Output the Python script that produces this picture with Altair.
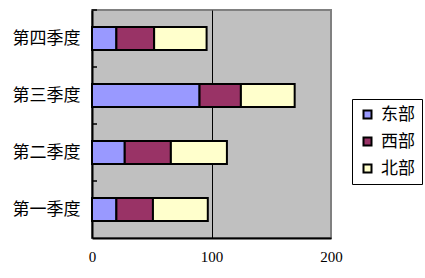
import altair as alt
import pandas as pd

quarters = ["第一季度", "第二季度", "第三季度", "第四季度"]
series = ["东部", "西部", "北部"]
east = [20.4, 27.4, 90, 20.4]
west = [30.6, 38.6, 34.6, 31.6]
north = [45.9, 46.9, 45, 43.9]
colors = ["#9999FF", "#993366", "#FFFFCC"]
x_ticks = [0, 100, 200]

rows = []
for vals, s in zip([east, west, north], series):
    for q, v in zip(quarters, vals):
        rows.append({"季度": q, "地区": s, "值": v, "序": series.index(s)})
df = pd.DataFrame(rows)
qdf = pd.DataFrame({"季度": quarters})

cjk = "Noto Sans CJK SC"
y_order = list(reversed(quarters))

W, H = 239, 228
yscale = alt.Scale(domain=y_order, paddingInner=0.6, paddingOuter=0.3)
xscale = alt.Scale(domain=[0, 200], nice=False)

bars = alt.Chart(df).mark_bar(stroke="black", strokeWidth=2).encode(
    x=alt.X("值:Q", stack="zero", scale=xscale, title=None,
            axis=alt.Axis(values=x_ticks, tickSize=0, labelFont="Liberation Serif",
                          labelFontSize=15, labelColor="black", labelPadding=11,
                          labelFlush=False,
                          domainColor="black", domainWidth=2, grid=True,
                          gridColor=alt.condition("datum.value == 100", alt.value("black"), alt.value("#808080")),
                          gridWidth=1, gridOpacity=1)),
    y=alt.Y("季度:N", sort=y_order, scale=yscale, title=None,
            axis=alt.Axis(orient="left", tickSize=0, labelFont=cjk, labelFontSize=17,
                          labelFontWeight="normal",
                          labelColor="black", labelPadding=12, domainColor="black",
                          domainWidth=2, grid=False)),
    color=alt.Color("地区:N", scale=alt.Scale(domain=series, range=colors),
                    legend=alt.Legend(title=None, orient="none", legendX=260, legendY=89,
                                      fillColor="white", strokeColor="black", padding=7,
                                      symbolType="square", symbolSize=64,
                                      symbolStrokeColor="black", symbolStrokeWidth=2,
                                      labelFont=cjk, labelFontSize=17, labelColor="black",
                                      labelOffset=5, rowPadding=9)),
    order=alt.Order("序:Q"),
)

step = H / len(quarters)
ticks = alt.Chart(qdf).mark_rule(color="black", strokeWidth=1.5, yOffset=-step / 2).encode(
    y=alt.Y("季度:N", sort=y_order, scale=yscale),
    x=alt.value(0),
    x2=alt.value(5),
)

chart = alt.layer(bars, ticks).properties(
    width=W, height=H,
    autosize=alt.AutoSizeParams(type="none"),
    padding={"left": 92, "top": 10, "right": 94, "bottom": 40},
).configure_view(fill="#C0C0C0", stroke="#808080", strokeWidth=2)

chart.save("out.html", embed_options={"renderer": "svg", "actions": False})
